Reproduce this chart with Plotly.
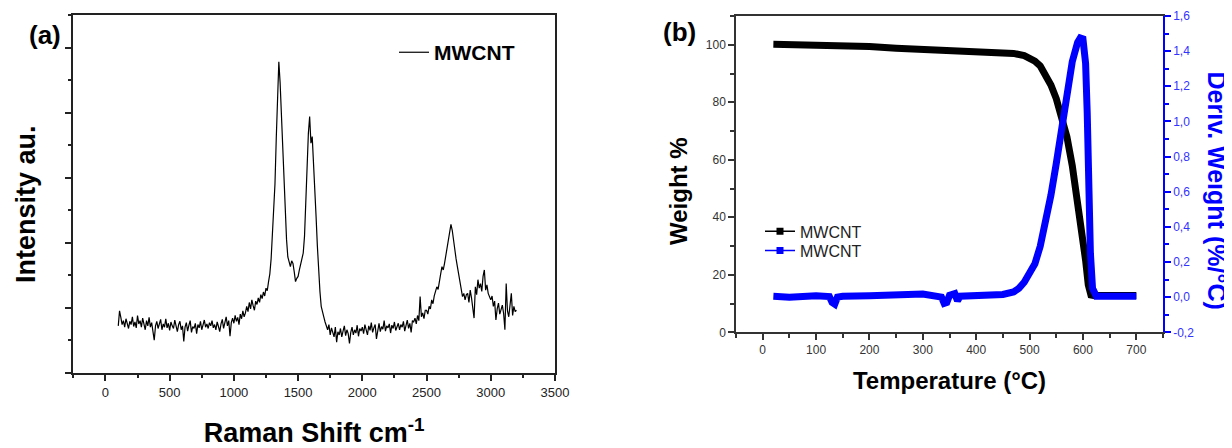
import plotly.graph_objects as go

# ---------------- Panel (a): Raman spectrum ----------------
raman_start = 100
raman_step = 10
raman_intensity = [
    0.72, 0.95, 0.85, 0.74, 0.80, 0.70, 0.83, 0.76, 0.68, 0.79,
    0.74, 0.86, 0.71, 0.78, 0.69, 0.88, 0.75, 0.80, 0.70, 0.84,
    0.73, 0.66, 0.80, 0.72, 0.85, 0.70, 0.77, 0.64, 0.50, 0.72,
    0.79, 0.68, 0.74, 0.82, 0.66, 0.75, 0.70, 0.83, 0.69, 0.76,
    0.65, 0.78, 0.72, 0.68, 0.81, 0.70, 0.63, 0.74, 0.79, 0.66,
    0.72, 0.48, 0.70, 0.77, 0.64, 0.73, 0.80, 0.62, 0.71, 0.68,
    0.76, 0.60, 0.74, 0.69, 0.79, 0.66, 0.72, 0.81, 0.70, 0.75,
    0.68, 0.77, 0.72, 0.80, 0.69, 0.74, 0.66, 0.78, 0.71, 0.63,
    0.75, 0.82, 0.68, 0.79, 0.86, 0.72, 0.80, 0.56, 0.77, 0.84,
    0.76, 0.88, 0.79, 0.85, 0.74, 0.90, 0.83, 0.95, 0.86, 0.92,
    1.02, 0.94, 1.08, 0.98, 1.12, 1.03, 0.96, 1.10, 1.05, 1.15,
    1.08, 1.20, 1.14, 1.24, 1.18, 1.30, 1.26, 1.40, 1.52, 1.75,
    2.14, 2.55, 2.90, 3.60, 4.40, 4.78, 4.46, 4.00, 3.43, 2.90,
    2.40, 2.05, 1.78, 1.70, 1.63, 1.72, 1.68, 1.55, 1.40, 1.45,
    1.48, 1.58, 1.68, 1.75, 1.84, 2.10, 2.66, 3.10, 3.68, 3.94,
    3.53, 3.63, 3.27, 2.85, 2.40, 1.95, 1.53, 1.25, 1.02, 0.92,
    0.86, 0.78, 0.71, 0.66, 0.74, 0.58, 0.69, 0.62, 0.55, 0.70,
    0.47, 0.63, 0.58, 0.68, 0.55, 0.64, 0.72, 0.57, 0.66, 0.60,
    0.45, 0.62, 0.70, 0.58, 0.66, 0.61, 0.73, 0.56, 0.68, 0.64,
    0.70, 0.60, 0.74, 0.66, 0.58, 0.72, 0.65, 0.77, 0.62, 0.69,
    0.74, 0.52, 0.68, 0.76, 0.63, 0.71, 0.67, 0.80, 0.64, 0.72,
    0.69, 0.75, 0.61, 0.73, 0.68, 0.78, 0.65, 0.71, 0.76, 0.66,
    0.74, 0.70, 0.79, 0.64, 0.72, 0.81, 0.68, 0.76, 0.62, 0.80,
    0.78, 0.84, 0.75, 0.88, 0.80, 1.17, 0.86, 0.92, 0.83, 0.96,
    0.96, 0.90, 1.02, 0.98, 1.12, 1.06, 1.18, 1.24, 1.32, 1.28,
    1.43, 1.52, 1.63, 1.58, 1.68, 1.80, 1.94, 2.05, 2.14, 2.28,
    2.19, 2.02, 1.94, 1.75, 1.63, 1.50, 1.37, 1.30, 1.17, 1.22,
    1.12, 1.20, 1.22, 1.08, 1.27, 1.15, 1.02, 0.84, 1.32, 1.20,
    1.43, 1.30, 1.37, 1.25, 1.48, 1.58, 1.27, 1.35, 1.22, 1.15,
    1.12, 1.18, 1.02, 1.10, 0.81, 0.98, 1.07, 0.90, 0.96, 1.04,
    0.91, 0.66, 1.37, 0.95, 0.86, 1.06, 1.22, 0.88, 1.02, 0.94,
    0.96,
]
raman_shift = [raman_start + raman_step * i for i in range(len(raman_intensity))]

# ---------------- Panel (b): TGA / DTG ----------------
tga_temp = [20, 50, 100, 150, 200, 250, 300, 350, 400, 450, 470, 490, 500, 510,
            520, 530, 540, 550, 560, 570, 580, 590, 600, 605, 610, 615, 620, 650, 700]
tga_weight = [100.2, 100.1, 99.9, 99.7, 99.4, 98.8, 98.4, 97.9, 97.7, 97.3, 97.0, 96.2,
              95.5, 94.3, 92.6, 89.8, 86.0, 81.3, 75.0, 68.0, 58.0, 46.0, 33.0, 25.0,
              16.5, 13.0, 12.8, 12.8, 12.8]

dtg_temp = [20, 50, 100, 125, 130, 135, 140, 150, 200, 250, 300, 335, 340, 345, 350,
            360, 365, 370, 400, 450, 470, 480, 490, 500, 510, 520, 530, 540, 550, 560,
            570, 580, 590, 595, 600, 605, 608, 611, 614, 618, 625, 650, 700]
dtg_deriv = [0.005, 0.0, 0.008, 0.003, -0.03, -0.04, 0.0, 0.005, 0.008, 0.015, 0.018,
             0.0, -0.035, -0.03, 0.01, 0.02, -0.02, 0.005, 0.01, 0.015, 0.03, 0.05,
             0.085, 0.13, 0.19, 0.29, 0.42, 0.58, 0.76, 0.96, 1.16, 1.34, 1.45, 1.475,
             1.47, 1.33, 1.05, 0.60, 0.25, 0.05, 0.005, 0.005, 0.005]

deriv_tickvals = [-0.2, 0.0, 0.2, 0.4, 0.6, 0.8, 1.0, 1.2, 1.4, 1.6]
deriv_ticktext = ["-0,2", "0,0", "0,2", "0,4", "0,6", "0,8", "1,0", "1,2", "1,4", "1,6"]

BLUE = "#0000ff"
FONT = "Arial, Liberation Sans, sans-serif"

# The page body adds an 8 px offset, so the figure is 1224x440 and sits at (8, 8).
W, H, OFF = 1224, 440, 8


def px(x):
    return (x - OFF) / W


def py(y):
    return 1 - (y - OFF) / H


fig = go.Figure()

fig.add_trace(go.Scatter(x=raman_shift, y=raman_intensity, mode="lines",
                         line=dict(color="black", width=1.2), name="MWCNT",
                         xaxis="x", yaxis="y", legend="legend"))

fig.add_trace(go.Scatter(x=tga_temp, y=tga_weight, mode="lines",
                         line=dict(color="black", width=7), showlegend=False,
                         xaxis="x2", yaxis="y2"))
fig.add_trace(go.Scatter(x=dtg_temp, y=dtg_deriv, mode="lines",
                         line=dict(color=BLUE, width=7), showlegend=False,
                         xaxis="x2", yaxis="y3"))
# legend entries (line with square symbol) for panel (b)
fig.add_trace(go.Scatter(x=[None], y=[None], mode="lines+markers", name="MWCNT",
                         line=dict(color="black", width=1.5),
                         marker=dict(symbol="square", size=7, color="black"),
                         xaxis="x2", yaxis="y2", legend="legend2"))
fig.add_trace(go.Scatter(x=[None], y=[None], mode="lines+markers", name="MWCNT",
                         line=dict(color=BLUE, width=1.5),
                         marker=dict(symbol="square", size=7, color=BLUE),
                         xaxis="x2", yaxis="y3", legend="legend3"))

axis_common = dict(showgrid=False, zeroline=False, showline=True, ticks="outside",
                   automargin=False)

fig.update_layout(
    width=W, height=H,
    margin=dict(l=0, r=0, t=0, b=0, pad=0, autoexpand=False),
    paper_bgcolor="white", plot_bgcolor="white",
    font=dict(family=FONT, color="black"),
    xaxis=dict(**axis_common, domain=[px(73.3), px(555)], anchor="y", range=[-250, 3500],
               tick0=0, dtick=500, ticklen=7, tickwidth=1.5, linewidth=1.5,
               linecolor="#222", tickcolor="#222", mirror=True,
               minor=dict(dtick=250, ticklen=4, tickwidth=1.5, tickcolor="#222", ticks="outside"),
               tickfont=dict(size=13, color="#222"),
               title=dict(text="Raman Shift cm<sup>-1</sup>", standoff=38,
                          font=dict(size=27, color="black", weight="bold"))),
    yaxis=dict(**axis_common, domain=[py(372.7), py(15)], anchor="x", range=[0, 5.5],
               tick0=0, dtick=1, ticklen=7, tickwidth=1.5, linewidth=1.5,
               linecolor="#222", tickcolor="#222", mirror=True, showticklabels=False,
               minor=dict(dtick=0.5, ticklen=4, tickwidth=1.5, tickcolor="#222", ticks="outside")),
    xaxis2=dict(**axis_common, domain=[px(736), px(1163)], anchor="y2", range=[-50, 750],
                tick0=0, dtick=100, ticklen=6, tickwidth=1.5, linewidth=1.5,
                linecolor="#333", tickcolor="#333", mirror=True,
                minor=dict(dtick=50, ticklen=4, tickwidth=1.5, tickcolor="#333", ticks="outside"),
                tickfont=dict(size=12, color="#333"),
                title=dict(text="Temperature (°C)", standoff=16,
                           font=dict(size=24, color="black", weight="bold"))),
    yaxis2=dict(**axis_common, domain=[py(332.3), py(16)], anchor="x2", range=[0, 110],
                tick0=0, dtick=20, ticklen=6, tickwidth=1.5, linewidth=1.5,
                linecolor="#333", tickcolor="#333", mirror=False,
                minor=dict(dtick=10, ticklen=4, tickwidth=1.5, tickcolor="#333", ticks="outside"),
                tickfont=dict(size=12, color="#333")),
    yaxis3=dict(**axis_common, overlaying="y2", side="right", anchor="x2",
                range=[-0.2, 1.6], tickmode="array", tickvals=deriv_tickvals,
                ticktext=deriv_ticktext, ticklen=6, tickwidth=1.5, linewidth=1.5,
                linecolor=BLUE, tickcolor=BLUE,
                minor=dict(tickmode="linear", tick0=-0.2, dtick=0.1, ticklen=4,
                           tickwidth=1.5, tickcolor=BLUE, ticks="outside"),
                tickfont=dict(size=12, color="#3333ff")),
    legend=dict(x=px(394), y=py(32.1), xanchor="left", yanchor="top",
                bgcolor="rgba(0,0,0,0)", borderwidth=0,
                font=dict(size=21, color="black", weight="bold")),
    legend2=dict(x=px(760), y=py(214.4), xanchor="left", yanchor="top",
                 bgcolor="rgba(0,0,0,0)", borderwidth=0,
                 font=dict(size=16, color="#222")),
    legend3=dict(x=px(760), y=py(233.5), xanchor="left", yanchor="top",
                 bgcolor="rgba(0,0,0,0)", borderwidth=0,
                 font=dict(size=16, color="#222")),
    annotations=[
        dict(text="(a)", x=px(45), y=py(35), xref="paper", yref="paper",
             xanchor="center", yanchor="middle", showarrow=False,
             font=dict(size=26, color="black", weight="bold")),
        dict(text="(b)", x=px(679), y=py(31.5), xref="paper", yref="paper",
             xanchor="center", yanchor="middle", showarrow=False,
             font=dict(size=26, color="black", weight="bold")),
        dict(text="Intensity au.", x=px(26), y=py(204), xref="paper", yref="paper",
             xanchor="center", yanchor="middle", showarrow=False, textangle=-90,
             font=dict(size=27, color="black", weight="bold")),
        dict(text="Weight %", x=px(678), y=py(191), xref="paper", yref="paper",
             xanchor="center", yanchor="middle", showarrow=False, textangle=-90,
             font=dict(size=24, color="black", weight="bold")),
        dict(text="Deriv. Weight (%/°C)", x=px(1216.5), y=py(190), xref="paper", yref="paper",
             xanchor="center", yanchor="middle", showarrow=False, textangle=90,
             font=dict(size=25, color=BLUE, weight="bold")),
    ],
)

fig.write_html("out.html")
